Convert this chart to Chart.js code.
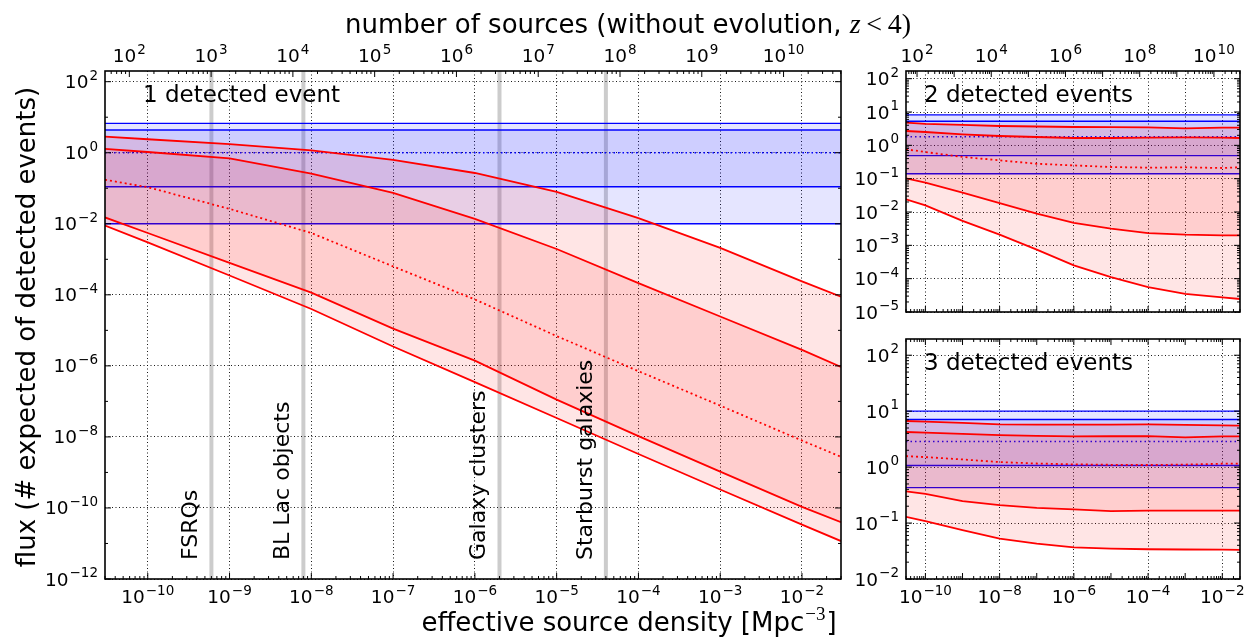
<!DOCTYPE html>
<html>
<head>
<meta charset="utf-8">
<script src="https://cdn.jsdelivr.net/npm/chart.js@4.4.1/dist/chart.umd.min.js"></script>
<style>
  body { margin: 0; background: #fff; }
  canvas { position: absolute; }
</style>
</head>
<body>
<canvas id="main" width="1247" height="637" style="left:0;top:0"></canvas>
<canvas id="two" width="402" height="325" style="left:845px;top:0"></canvas>
<canvas id="three" width="402" height="312" style="left:845px;top:325px"></canvas>
<script>
// effective source density samples [Mpc^-3]
const density = [3e-11, 1e-10, 1e-9, 1e-8, 1e-7, 1e-6, 1e-5, 1e-4, 1e-3, 1e-2, 3e-2];
// comoving volume out to z = 4 [Mpc^3], links density to number of sources
const volumeZ4 = 1.68e12;

// 1 detected event
const ev1Top    = [2.85, 2.40, 1.74, 1.17, 0.631, 0.269, 0.0794, 0.0145, 0.00209, 0.00024, 0.0000891];
const ev1Upper  = [1.29, 1.05, 0.692, 0.257, 0.0741, 0.0138, 0.00195, 0.000214, 2.45e-5, 2.82e-6, 9.3e-7];
const ev1Median = [0.174, 0.107, 0.0263, 0.0055, 6.3e-4, 7.4e-5, 6.9e-6, 7.1e-7, 7.6e-8, 7.9e-9, 2.75e-9];
const ev1Lower  = [0.0151, 0.0055, 7.9e-4, 1.15e-4, 1.12e-5, 1.41e-6, 1.12e-7, 1.05e-8, 1.05e-9, 1.07e-10, 4.0e-11];
const ev1Bottom = [0.0089, 0.0030, 3.5e-4, 4.0e-5, 3.5e-6, 3.5e-7, 3.4e-8, 3.3e-9, 3.3e-10, 3.4e-11, 1.17e-11];
const ev1Limits = [0.01, 0.11, 1.0, 4.36, 6.7];

// 2 detected events
const ev2Top    = [4.8, 4.4, 4.1, 3.8, 3.67, 3.55, 3.5, 3.47, 3.24, 3.39, 3.39];
const ev2Upper  = [2.69, 2.51, 2.14, 1.91, 1.78, 1.66, 1.66, 1.70, 1.74, 1.70, 1.66];
const ev2Median = [0.76, 0.63, 0.45, 0.355, 0.28, 0.25, 0.224, 0.214, 0.219, 0.209, 0.219];
const ev2Lower  = [0.102, 0.076, 0.038, 0.0186, 0.0089, 0.0047, 0.00316, 0.00234, 0.00209, 0.0020, 0.0020];
const ev2Bottom = [0.024, 0.0158, 0.0054, 0.00209, 0.00074, 0.00025, 0.000112, 0.000056, 0.000035, 0.0000275, 0.0000245];
const ev2Limits = [0.14, 0.49, 1.82, 5.3, 8.2];

// 3 detected events
const ev3Top    = [6.67, 6.49, 6.17, 5.81, 5.75, 5.73, 5.75, 5.81, 5.69, 5.57, 5.5];
const ev3Upper  = [4.24, 4.12, 3.94, 3.74, 3.63, 3.54, 3.56, 3.59, 3.40, 3.54, 3.54];
const ev3Median = [1.57, 1.51, 1.37, 1.23, 1.16, 1.12, 1.10, 1.09, 1.11, 1.15, 1.16];
const ev3Lower  = [0.37, 0.333, 0.246, 0.209, 0.187, 0.175, 0.163, 0.167, 0.167, 0.167, 0.167];
const ev3Bottom = [0.129, 0.108, 0.0745, 0.0527, 0.043, 0.0369, 0.0349, 0.034, 0.0337, 0.0335, 0.0331];
const ev3Limits = [0.43, 1.07, 2.87, 7.1, 10.0];

// source classes
const sourceNames   = ['FSRQs', 'BL Lac objects', 'Galaxy clusters', 'Starburst galaxies'];
const sourceDensity = [6e-10, 8e-9, 2e-6, 4e-5];

// tick exponents
const mainXExp  = [-10, -9, -8, -7, -6, -5, -4, -3, -2];
const mainNExp  = [2, 3, 4, 5, 6, 7, 8, 9, 10];
const mainYExp  = [-12, -10, -8, -6, -4, -2, 0, 2];
const sideXExp  = [-10, -8, -6, -4, -2];
const sideNExp  = [2, 4, 6, 8, 10];
const twoYExp   = [-5, -4, -3, -2, -1, 0, 1, 2];
const threeYExp = [-2, -1, 0, 1, 2];

const FONT = '"DejaVu Sans", sans-serif';
const xMin = density[0], xMax = density[density.length - 1];

function decades(lo, hi) {
  const out = [];
  for (let e = lo; e <= hi; e++) out.push(e);
  return out;
}
function subs(lo, hi) {
  const out = [];
  for (let e = lo; e <= hi; e++)
    for (let s = 2; s <= 9; s++) out.push(s * Math.pow(10, e));
  return out;
}

function panelDatasets(top, upper, median, lower, bottom, limits) {
  const curve = ys => density.map((x, i) => ({ x, y: ys[i] }));
  const level = v => [{ x: xMin, y: v }, { x: xMax, y: v }];
  const red = '#ff0000', blue = '#0000ff';
  return [
    { data: curve(top), borderColor: red, fill: 4, backgroundColor: 'rgba(255,0,0,0.1)' },
    { data: curve(upper), borderColor: red, fill: 3, backgroundColor: 'rgba(255,0,0,0.1)' },
    { data: curve(median), borderColor: red, borderDash: [2, 3] },
    { data: curve(lower), borderColor: red },
    { data: curve(bottom), borderColor: red },
    { data: level(limits[4]), borderColor: blue, borderWidth: 1.4, fill: 8, backgroundColor: 'rgba(0,0,255,0.1)' },
    { data: level(limits[3]), borderColor: blue, borderWidth: 1.4, fill: 7, backgroundColor: 'rgba(0,0,255,0.1)' },
    { data: level(limits[1]), borderColor: blue, borderWidth: 1.4 },
    { data: level(limits[0]), borderColor: blue, borderWidth: 1.4 },
    { data: level(limits[2]), borderColor: blue, borderWidth: 1.4, borderDash: [1.5, 3] }
  ];
}

function pow10Label(ctx, x, y, exp, align) {
  const base = '10';
  const sup = (exp < 0 ? '\u2212' : '') + Math.abs(exp);
  ctx.font = '18.5px ' + FONT;
  const wb = ctx.measureText(base).width;
  ctx.font = '13.5px ' + FONT;
  const ws = ctx.measureText(sup).width;
  const w = wb + 1 + ws;
  let x0 = x;
  if (align === 'center') x0 = x - w / 2;
  if (align === 'right') x0 = x - w;
  ctx.textAlign = 'left';
  ctx.textBaseline = 'alphabetic';
  ctx.font = '18.5px ' + FONT;
  ctx.fillText(base, x0, y);
  ctx.font = '13.5px ' + FONT;
  ctx.fillText(sup, x0 + wb + 1, y - 8.5);
}

// frame, inward ticks, tick labels and texts
function decor(spec) {
  return {
    id: 'decor',
    afterDraw(chart) {
      const { ctx, chartArea: a } = chart;
      ctx.save();
      ctx.fillStyle = '#000';
      ctx.strokeStyle = '#000';
      ctx.lineWidth = 1;
      for (const t of spec.marks) {
        const s = chart.scales[t.scale];
        const mark = (v, len) => {
          const p = s.getPixelForValue(v);
          if (s.isHorizontal()) {
            if (p < a.left || p > a.right) return;
            for (const side of t.sides) {
              const y0 = side === 'top' ? a.top : a.bottom;
              const d = side === 'top' ? len : -len;
              ctx.beginPath(); ctx.moveTo(p, y0); ctx.lineTo(p, y0 + d); ctx.stroke();
            }
          } else {
            if (p < a.top || p > a.bottom) return;
            for (const side of t.sides) {
              const x0 = side === 'left' ? a.left : a.right;
              const d = side === 'left' ? len : -len;
              ctx.beginPath(); ctx.moveTo(x0, p); ctx.lineTo(x0 + d, p); ctx.stroke();
            }
          }
        };
        t.major.forEach(e => mark(Math.pow(10, e), 6));
        t.minor.forEach(v => mark(v, 3));
      }
      ctx.lineWidth = 1.6;
      ctx.strokeRect(a.left, a.top, a.right - a.left, a.bottom - a.top);

      for (const l of spec.labels) {
        const s = chart.scales[l.scale];
        for (const e of l.exps) {
          const p = s.getPixelForValue(Math.pow(10, e));
          if (l.side === 'left') pow10Label(ctx, a.left - 7, p + 6.5, e, 'right');
          if (l.side === 'bottom') pow10Label(ctx, p, a.bottom + 24, e, 'center');
          if (l.side === 'top') pow10Label(ctx, p, a.top - 9, e, 'center');
        }
      }

      ctx.font = '23px ' + FONT;
      ctx.textAlign = 'left';
      ctx.textBaseline = 'alphabetic';
      ctx.fillText(spec.panel, a.left + spec.panelDx, a.top + 31);

      if (spec.extra) spec.extra(chart, ctx, a);
      ctx.restore();
    }
  };
}

function logAxis(opts) {
  const exps = opts.grid;
  return {
    type: 'logarithmic',
    position: opts.position,
    min: opts.min,
    max: opts.max,
    afterBuildTicks: s => { s.ticks = exps ? exps.map(e => ({ value: Math.pow(10, e) })) : []; },
    afterFit: s => { if (opts.width !== undefined) s.width = opts.width; if (opts.height !== undefined) s.height = opts.height; },
    ticks: { display: false },
    border: { display: false, dash: [1, 2.5] },
    grid: { display: !!exps, color: 'rgba(0,0,0,0.9)', lineWidth: 1, drawTicks: false }
  };
}

const baseOptions = {
  responsive: false,
  animation: false,
  events: [],
  elements: {
    line: { borderWidth: 1.8, tension: 0, fill: false },
    point: { radius: 0 }
  },
  plugins: { legend: { display: false }, tooltip: { enabled: false } }
};

// ---- main panel: 1 detected event ----
const mainSets = panelDatasets(ev1Top, ev1Upper, ev1Median, ev1Lower, ev1Bottom, ev1Limits);
sourceDensity.forEach(d => {
  mainSets.push({ data: [{ x: d, y: 1e-12 }, { x: d, y: 200 }], borderColor: 'rgba(0,0,0,0.2)', borderWidth: 4 });
});

new Chart(document.getElementById('main'), {
  type: 'line',
  data: { datasets: mainSets },
  options: {
    ...baseOptions,
    layout: { padding: { left: 0, right: 406, top: 0, bottom: 0 } },
    scales: {
      x: logAxis({ position: 'bottom', min: xMin, max: xMax, grid: mainXExp, height: 58 }),
      x2: logAxis({ position: 'top', min: xMin * volumeZ4, max: xMax * volumeZ4, height: 71 }),
      y: logAxis({ position: 'left', min: 1e-12, max: 200, grid: mainYExp, width: 105 })
    }
  },
  plugins: [decor({
    panel: '1 detected event',
    panelDx: 38,
    marks: [
      { scale: 'x', sides: ['bottom'], major: mainXExp, minor: subs(-11, -2) },
      { scale: 'x2', sides: ['top'], major: mainNExp, minor: subs(1, 10) },
      { scale: 'y', sides: ['left', 'right'], major: mainYExp, minor: [-11, -9, -7, -5, -3, -1, 1].map(e => Math.pow(10, e)) }
    ],
    labels: [
      { scale: 'x', side: 'bottom', exps: mainXExp },
      { scale: 'x2', side: 'top', exps: mainNExp },
      { scale: 'y', side: 'left', exps: mainYExp }
    ],
    extra(chart, ctx, a) {
      // source class labels
      ctx.font = '22px ' + FONT;
      ctx.textAlign = 'left';
      sourceNames.forEach((name, i) => {
        const px = chart.scales.x.getPixelForValue(sourceDensity[i]);
        ctx.save();
        ctx.translate(px - 14, 560);
        ctx.rotate(-Math.PI / 2);
        ctx.fillText(name, 0, 0);
        ctx.restore();
      });
      // y title
      ctx.save();
      ctx.font = '26px ' + FONT;
      ctx.textAlign = 'center';
      ctx.translate(35, 327);
      ctx.rotate(-Math.PI / 2);
      ctx.fillText('flux (# expected of detected events)', 0, 0);
      ctx.restore();
      // x title with superscript
      ctx.textAlign = 'left';
      const xt1 = 'effective source density [Mpc', xtSup = '\u22123', xt2 = ']';
      ctx.font = '26px ' + FONT;
      const w1 = ctx.measureText(xt1).width, w3 = ctx.measureText(xt2).width;
      ctx.font = '19px "Liberation Serif", serif';
      const w2 = ctx.measureText(xtSup).width;
      let x = 629 - (w1 + w2 + w3 + 2) / 2;
      ctx.font = '26px ' + FONT;
      ctx.fillText(xt1, x, 631);
      ctx.font = '19px "Liberation Serif", serif';
      ctx.fillText(xtSup, x + w1 + 1, 620);
      ctx.font = '26px ' + FONT;
      ctx.fillText(xt2, x + w1 + w2 + 2, 631);
      // top title with math part
      const tt1 = 'number of sources (without evolution, ';
      ctx.font = '26px ' + FONT;
      const v1 = ctx.measureText(tt1).width;
      ctx.font = 'italic 28px "Liberation Serif", serif';
      const v2 = ctx.measureText('z').width;
      ctx.font = '28px "Liberation Serif", serif';
      const v3 = ctx.measureText('\u2009<\u2009').width, v4 = ctx.measureText('4)').width;
      x = 628 - (v1 + v2 + v3 + v4) / 2;
      ctx.font = '26px ' + FONT;
      ctx.fillText(tt1, x, 33);
      ctx.font = 'italic 28px "Liberation Serif", serif';
      ctx.fillText('z', x + v1, 33);
      ctx.font = '28px "Liberation Serif", serif';
      ctx.fillText('\u2009<\u2009', x + v1 + v2, 33);
      ctx.fillText('4)', x + v1 + v2 + v3, 33);
    }
  })]
});

// ---- upper right panel: 2 detected events ----
new Chart(document.getElementById('two'), {
  type: 'line',
  data: { datasets: panelDatasets(ev2Top, ev2Upper, ev2Median, ev2Lower, ev2Bottom, ev2Limits) },
  options: {
    ...baseOptions,
    layout: { padding: { left: 0, right: 7, top: 0, bottom: 0 } },
    scales: {
      x: logAxis({ position: 'bottom', min: xMin, max: xMax, grid: decades(-10, -2), height: 13 }),
      x2: logAxis({ position: 'top', min: xMin * volumeZ4, max: xMax * volumeZ4, height: 71 }),
      y: logAxis({ position: 'left', min: 1e-5, max: 170, grid: twoYExp, width: 61 })
    }
  },
  plugins: [decor({
    panel: '2 detected events',
    panelDx: 18,
    marks: [
      { scale: 'x', sides: ['bottom'], major: decades(-10, -2), minor: subs(-11, -2) },
      { scale: 'x2', sides: ['top'], major: decades(2, 10), minor: subs(1, 10) },
      { scale: 'y', sides: ['left', 'right'], major: twoYExp, minor: subs(-5, 2) }
    ],
    labels: [
      { scale: 'x2', side: 'top', exps: sideNExp },
      { scale: 'y', side: 'left', exps: twoYExp }
    ]
  })]
});

// ---- lower right panel: 3 detected events ----
new Chart(document.getElementById('three'), {
  type: 'line',
  data: { datasets: panelDatasets(ev3Top, ev3Upper, ev3Median, ev3Lower, ev3Bottom, ev3Limits) },
  options: {
    ...baseOptions,
    layout: { padding: { left: 0, right: 7, top: 14, bottom: 0 } },
    scales: {
      x: logAxis({ position: 'bottom', min: xMin, max: xMax, grid: sideXExp, height: 58 }),
      y: logAxis({ position: 'left', min: 1e-2, max: 195, grid: threeYExp, width: 61 })
    }
  },
  plugins: [decor({
    panel: '3 detected events',
    panelDx: 18,
    marks: [
      { scale: 'x', sides: ['bottom', 'top'], major: decades(-10, -2), minor: subs(-11, -2) },
      { scale: 'y', sides: ['left', 'right'], major: threeYExp, minor: subs(-2, 2) }
    ],
    labels: [
      { scale: 'x', side: 'bottom', exps: sideXExp },
      { scale: 'y', side: 'left', exps: threeYExp }
    ]
  })]
});
</script>
</body>
</html>
